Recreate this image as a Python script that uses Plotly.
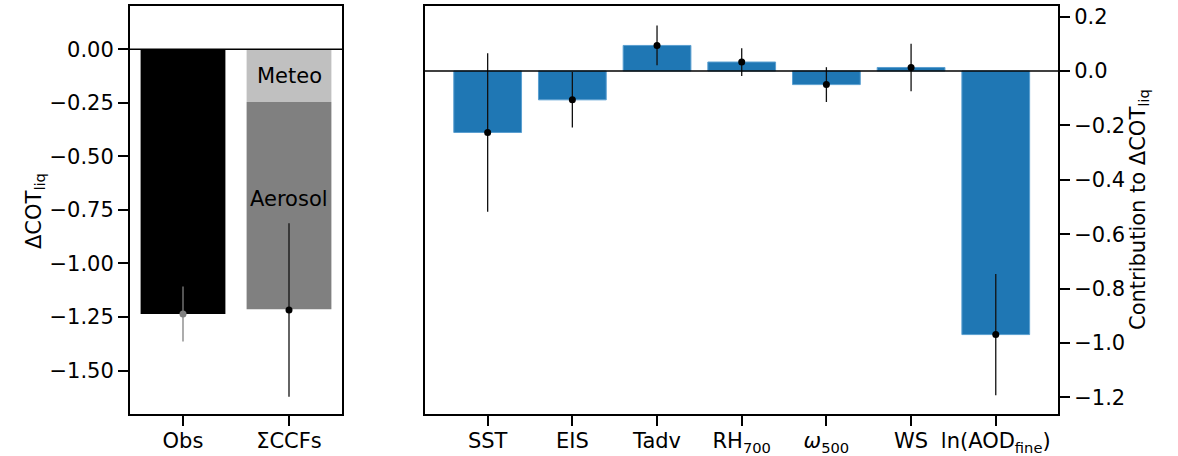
import plotly.graph_objects as go

# ---------------- data ----------------
left_cats = ["Obs", "ΣCCFs"]
obs_value = -1.236
obs_err = 0.128
meteo_value = -0.246
aerosol_value = -0.968
ccf_total = -1.217
ccf_err = 0.405

right_cats = ["SST", "EIS", "Tadv", "RH<sub>700</sub>", "<i>ω</i><sub>500</sub>", "WS", "ln(AOD<sub>fine</sub>)"]
contrib = [-0.226, -0.106, 0.094, 0.033, -0.050, 0.013, -0.969]
contrib_err = [0.291, 0.102, 0.073, 0.051, 0.064, 0.087, 0.223]

left_ticks = [0.0, -0.25, -0.5, -0.75, -1.0, -1.25, -1.5]
left_ticktext = ["0.00", "−0.25", "−0.50", "−0.75", "−1.00", "−1.25", "−1.50"]
right_ticks = [0.2, 0.0, -0.2, -0.4, -0.6, -0.8, -1.0, -1.2]
right_ticktext = ["0.2", "0.0", "−0.2", "−0.4", "−0.6", "−0.8", "−1.0", "−1.2"]

FONT = "DejaVu Sans"
FS = 21
W, H = 1178, 456


def px(x):
    return x / W


def py(y):
    return (H - y) / H


fig = go.Figure()

# left panel bars
fig.add_trace(go.Bar(x=[left_cats[0]], y=[obs_value], marker=dict(color="black", line=dict(width=0)),
                     width=0.8, xaxis="x", yaxis="y", showlegend=False))
fig.add_trace(go.Bar(x=[left_cats[1]], y=[meteo_value], marker=dict(color="#c0c0c0", line=dict(width=0)),
                     width=0.8, xaxis="x", yaxis="y", showlegend=False))
fig.add_trace(go.Bar(x=[left_cats[1]], y=[aerosol_value], marker=dict(color="#808080", line=dict(width=0)),
                     width=0.8, xaxis="x", yaxis="y", showlegend=False))
# left error bars
fig.add_trace(go.Scatter(x=[left_cats[0]], y=[obs_value], mode="markers",
                         marker=dict(color="#808080", size=7),
                         error_y=dict(type="data", array=[obs_err], color="#808080", thickness=1.3, width=0),
                         xaxis="x", yaxis="y", showlegend=False))
fig.add_trace(go.Scatter(x=[left_cats[1]], y=[ccf_total], mode="markers",
                         marker=dict(color="black", size=7),
                         error_y=dict(type="data", array=[ccf_err], color="#111111", thickness=1.3, width=0),
                         xaxis="x", yaxis="y", showlegend=False))

# right panel
fig.add_trace(go.Bar(x=right_cats, y=contrib, marker=dict(color="#1f77b4", line=dict(color="#5a9fd0", width=1)),
                     width=0.8, xaxis="x2", yaxis="y2", showlegend=False))
fig.add_trace(go.Scatter(x=right_cats, y=contrib, mode="markers",
                         marker=dict(color="black", size=7),
                         error_y=dict(type="data", array=contrib_err, color="#111111", thickness=1.3, width=0),
                         xaxis="x2", yaxis="y2", showlegend=False))

xd1 = [px(130), px(342)]
xd2 = [px(425), px(1058)]
yd = [py(414), py(6)]

axis_common = dict(showline=True, linecolor="black", linewidth=2, mirror=True,
                   ticks="outside", ticklen=10, tickwidth=2, tickcolor="black",
                   showgrid=False, zeroline=False,
                   tickfont=dict(family=FONT, size=FS, color="black"))

fig.update_layout(
    width=W, height=H,
    margin=dict(l=0, r=0, t=0, b=0),
    paper_bgcolor="white", plot_bgcolor="white",
    barmode="relative", bargap=0.2,
    font=dict(family=FONT, size=FS, color="black"),
    xaxis=dict(domain=xd1, range=[-0.5, 1.5], type="category", automargin=False,
               ticklabelstandoff=-3, **axis_common),
    yaxis=dict(domain=yd, range=[-1.703, 0.202], tickvals=left_ticks, ticktext=left_ticktext,
               automargin=False, anchor="x", **axis_common),
    xaxis2=dict(domain=xd2, range=[-0.74, 6.735], type="category", automargin=False, anchor="y2",
                ticklabelstandoff=-3, **axis_common),
    yaxis2=dict(domain=yd, range=[-1.261, 0.239], tickvals=right_ticks, ticktext=right_ticktext,
                side="right", automargin=False, anchor="x2", **axis_common),
)

# zero lines
fig.add_shape(type="line", xref="x domain", yref="y", x0=0, x1=1, y0=0, y1=0,
              line=dict(color="black", width=1.5), layer="above")
fig.add_shape(type="line", xref="x2 domain", yref="y2", x0=0, x1=1, y0=0, y1=0,
              line=dict(color="black", width=1.5), layer="above")

# bar labels
fig.add_annotation(x=left_cats[1], y=-0.123, xref="x", yref="y", text="Meteo", showarrow=False,
                   font=dict(family=FONT, size=FS, color="black"))
fig.add_annotation(x=left_cats[1], y=-0.699, xref="x", yref="y", text="Aerosol", showarrow=False,
                   font=dict(family=FONT, size=FS, color="black"))

# axis titles
fig.add_annotation(x=px(35), y=py(211), xref="paper", yref="paper", text="ΔCOT<sub>liq</sub>",
                   xanchor="center", yanchor="middle",
                   textangle=-90, showarrow=False, font=dict(family=FONT, size=FS, color="black"))
fig.add_annotation(x=px(1139), y=py(210), xref="paper", yref="paper",
                   text="Contribution to ΔCOT<sub>liq</sub>",
                   xanchor="center", yanchor="middle",
                   textangle=-90, showarrow=False, font=dict(family=FONT, size=FS, color="black"))

fig.write_html("out.html", config={"displayModeBar": False},
               post_script="document.body.style.margin='0';document.body.style.overflow='hidden';")
